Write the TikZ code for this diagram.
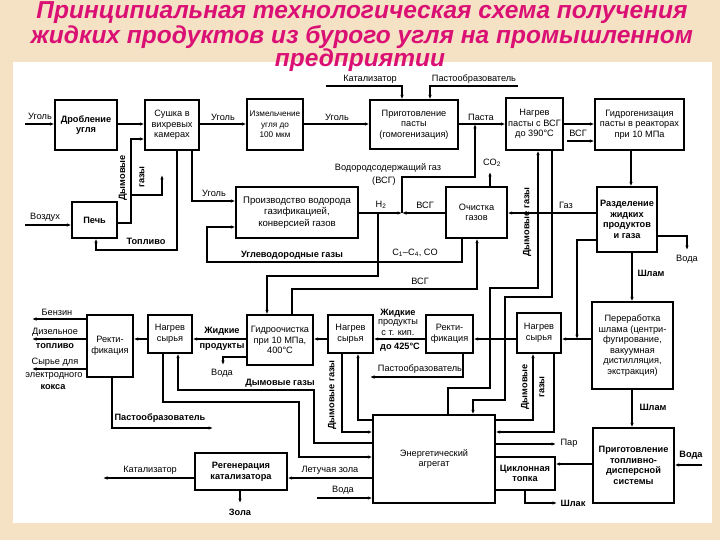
\documentclass[tikz,border=0pt]{standalone}
\usepackage{fontspec}
\setmainfont{Liberation Sans}
\usetikzlibrary{arrows.meta}
\definecolor{bgbeige}{RGB}{245,226,196}
\definecolor{titlepink}{RGB}{218,16,116}
\tikzset{
  fs/.style={font=\fontsize{9.2}{10.6}\selectfont},
  box/.style={draw, line width=1.3pt, align=center, inner sep=0pt, fill=white, fs},
  bbox/.style={box, font=\fontsize{9.2}{10.6}\selectfont\bfseries},
  ln/.style={line width=1.05pt},
  arr/.style={ln, -{Latex[length=4.5pt,width=3.5pt]}},
  lab/.style={inner sep=0pt, align=center, fs},
  blab/.style={lab, font=\fontsize{9.2}{10.6}\selectfont\bfseries},
  ttl/.style={font=\fontsize{24.5}{28}\selectfont\bfseries\itshape, inner sep=0pt, text=titlepink},
}
\begin{document}
\begin{tikzpicture}[x=1pt,y=-1pt]
\fill[bgbeige] (0,0) rectangle (720,540);
\fill[white] (13,62) rectangle (712,523);
\useasboundingbox (0,0) rectangle (720,540);

% title
\node[ttl] (t1) at (362,13) {Принципиальная технологическая схема получения};
\node[ttl] (t2) at (362,37) {жидких продуктов из бурого угля на промышленном};
\node[ttl] (t3) at (360,60) {предприятии};

% boxes
\node[bbox, minimum width=62pt, minimum height=50pt] (drob) at (86,125) {Дробление\\угля};
\node[box, minimum width=54pt, minimum height=50pt] (sush) at (172,125) {Сушка в\\вихревых\\камерах};
\node[box, minimum width=56pt, minimum height=51pt, font=\fontsize{8.2}{10.6}\selectfont] (izm) at (275,124.5) {Измельчение\\угля до\\100 мкм};
\node[box, minimum width=88pt, minimum height=49pt] (prig) at (414,124.5) {Приготовление\\пасты\\(гомогенизация)};
\node[box, minimum width=57pt, minimum height=52pt] (nagp) at (534.5,124) {Нагрев\\пасты с ВСГ\\до 390°C};
\node[box, minimum width=89pt, minimum height=51pt] (gidr) at (639.5,124.5) {Гидрогенизация\\пасты в реакторах\\при 10 МПа};
\node[bbox, minimum width=60pt, minimum height=65pt] (razd) at (627,219.5) {Разделение\\жидких\\продуктов\\и газа};
\node[box, minimum width=61pt, minimum height=51pt] (ochi) at (476.5,212.5) {Очистка\\газов};
\node[box, minimum width=122pt, minimum height=51pt, font=\fontsize{9.6}{11.2}\selectfont] (proi) at (297,212.5) {Производство водорода\\газификацией,\\конверсией газов};
\node[bbox, minimum width=45pt, minimum height=36pt] (pech) at (94.5,220) {Печь};
\node[box, minimum width=46pt, minimum height=62pt] (rekL) at (110,346) {Ректи-\\фикация};
\node[box, minimum width=44pt, minimum height=38pt] (nagL) at (170,334) {Нагрев\\сырья};
\node[box, minimum width=66pt, minimum height=50pt] (gdoc) at (280,340) {Гидроочистка\\при 10 МПа,\\400°C};
\node[box, minimum width=45pt, minimum height=38pt] (nagM) at (350.5,334) {Нагрев\\сырья};
\node[box, minimum width=47pt, minimum height=38pt] (rekM) at (449.5,334) {Ректи-\\фикация};
\node[box, minimum width=44pt, minimum height=40pt] (nagR) at (539,333) {Нагрев\\сырья};
\node[box, minimum width=81pt, minimum height=87pt] (pere) at (632.5,345.5) {Переработка\\шлама (центри-\\фугирование,\\вакуумная\\дистилляция,\\экстракция)};
\node[bbox, minimum width=81pt, minimum height=75pt] (prtd) at (633.5,465.5) {Приготовление\\топливно-\\дисперсной\\системы};
\node[box, minimum width=122pt, minimum height=88pt] (ener) at (434,459) {Энергетический\\агрегат};
\node[bbox, minimum width=60pt, minimum height=33pt] (tsik) at (525,473.5) {Циклонная\\топка};
\node[bbox, minimum width=92pt, minimum height=37pt] (rege) at (241,471.5) {Регенерация\\катализатора};

% free ends
\coordinate (ugin) at (25,124);
\coordinate (vozd) at (25,225);
\coordinate (katin) at (326,86);
\coordinate (pastin) at (518,86);
\coordinate (vsgin) at (567,141);
\coordinate (vodaout) at (687,250);
\coordinate (vodain) at (702,465);
\coordinate (shlak) at (557,503);
\coordinate (par) at (556,444);
\coordinate (vodaen) at (317,498);
\coordinate (katout) at (103,478);
\coordinate (zola) at (240,503);
\coordinate (atm) at (162,175);
\coordinate (co2) at (490,172);
\coordinate (jn) at (402,213);
\coordinate (jr) at (577,339);
\coordinate (benz) at (32,319);
\coordinate (diz) at (32,339);
\coordinate (syr) at (32,369);
\coordinate (pastL) at (213,428);
\coordinate (pastM) at (370,377);
\coordinate (vodaG) at (223,365);

% top row
\draw[arr] (ugin) -- (drob.west |- ugin);
\node[lab] (lug1) at (40,116) {Уголь};
\draw[arr] (drob.east |- 0,124) -- (sush.west |- 0,124);
\draw[arr] (sush.east |- 0,124) -- (izm.west |- 0,124);
\node[lab] (lug2) at (223,117) {Уголь};
\draw[arr] (izm.east |- 0,124) -- (prig.west |- 0,124);
\node[lab] (lug3) at (337,117) {Уголь};
\draw[arr] (katin) -- (402,86) -- (prig.north -| 402,0);
\node[lab] (lkat) at (370,79) {Катализатор};
\draw[arr] (pastin) -- (430,86) -- (prig.north -| 430,0);
\node[lab] (lpast) at (474,79) {Пастообразователь};
\draw[arr] (prig.east |- 0,124) -- (nagp.west |- 0,124);
\node[lab] (lpasta) at (481,117) {Паста};
\draw[arr] (nagp.east |- 0,124) -- (gidr.west |- 0,124);
\draw[arr] (vsgin) -- (gidr.west |- vsgin);
\node[lab] (lvsg1) at (578,133) {ВСГ};
\draw[arr] (gidr.south -| 631,0) -- (razd.north -| 631,0);

% separation
\draw[arr] (razd.west |- 0,213) -- (ochi.east |- 0,213);
\node[lab] (lgaz) at (566,205) {Газ};
\draw[arr] (razd.east |- 0,236) -- (687,236) -- (vodaout);
\node[lab] (lvoda1) at (687,259) {Вода};
\draw[arr] (razd.south -| 632,0) -- (pere.north -| 632,0);
\node[blab] (lshl1) at (651,273) {Шлам};
\draw[arr] (razd.west |- 0,240) -- (577,240) -- (jr);
\draw[arr] (pere.west |- jr) -- (nagR.east |- jr);
\draw[arr] (pere.south -| 632,0) -- (prtd.north -| 632,0);
\node[blab] (lshl2) at (653,407) {Шлам};
\draw[arr] (vodain) -- (prtd.east |- vodain);
\node[blab] (lvoda2) at (691,455) {Вода};
\draw[arr] (prtd.west |- 0,464) -- (tsik.east |- 0,464);
\draw[arr] (tsik.south -| 525,0) -- (525,503) -- (shlak);
\node[blab] (lshlak) at (573,503) {Шлак};
\draw[arr] (ener.east |- par) -- (par);
\node[lab] (lpar) at (569,443) {Пар};
\draw[arr] (ener.west |- 0,478) -- (rege.east |- 0,478);
\node[lab] (llz) at (330,470) {Летучая зола};
\draw[arr] (vodaen) -- (ener.west |- vodaen);
\node[lab] (lvoda3) at (343,490) {Вода};
\draw[arr] (rege.west |- katout) -- (katout);
\node[lab] (lkat2) at (150,470) {Катализатор};
\draw[arr] (rege.south -| zola) -- (zola);
\node[blab] (lzola) at (240,512) {Зола};

% furnace and drying
\draw[arr] (vozd) -- (pech.west |- vozd);
\node[lab] (lvozd) at (45,217) {Воздух};
\draw[arr] (pech.east |- 0,223) -- (131,223) -- (131,139) -- (sush.west |- 0,139);
\draw[arr] (131,195) -- (162,195) -- (atm);
\node[blab, rotate=90] (ldym1) at (123,178) {Дымовые};
\node[blab, rotate=90] (ldym2) at (142,177) {газы};
\draw[arr] (sush.south -| 177,0) -- (177,250) -- (96,250) -- (pech.south -| 96,0);
\node[blab] (ltopl) at (146,241) {Топливо};
\draw[arr] (sush.south -| 192,0) -- (192,201) -- (proi.west |- 0,201);
\node[lab] (lug4) at (214,193) {Уголь};

% hydrogen
\draw[arr] (proi.east |- jn) -- (jn);
\node[lab] (lh2) at (381,205) {H\textsubscript{2}};
\draw[arr] (ochi.west |- jn) -- (jn);
\node[lab] (lvsg2) at (425,205) {ВСГ};
\draw[arr] (jn) -- (402,177) -- (475,177) -- (475,124);
\node[lab] (lvsg3) at (388,168) {Водородсодержащий газ};
\node[lab] (lvsg4) at (384,181) {(ВСГ)};
\draw[arr] (ochi.north -| co2) -- (co2);
\node[lab] (lco2) at (492,163) {CO\textsubscript{2}};
\draw[arr] (378,213) -- (378,276) -- (267,276) -- (gdoc.north -| 267,0);
\draw[arr] (ochi.south -| 462,0) -- (462,262) -- (207,262) -- (207,227) -- (proi.west |- 0,227);
\node[blab] (luvg) at (292,255) {Углеводородные газы};
\node[lab] (lc1) at (415,253) {C\textsubscript{1}–C\textsubscript{4}, CO};
\draw[arr] (gdoc.north -| 292,0) -- (292,289) -- (477,289) -- (ochi.south -| 477,0);
\node[lab] (lvsg5) at (420,281) {ВСГ};

% flue gases to paste heater
\draw[arr] (ener.north -| 448,0) -- (448,388) -- (490,388) -- (490,288) -- (538,288) -- (nagp.south -| 538,0);
\draw[arr] (nagp.south -| 552,0) -- (552,297) -- (505,297) -- (505,400) -- (473,400) -- (ener.north -| 473,0);
\node[blab, rotate=90] (ldym3) at (527,222) {Дымовые газы};

% flue gases right heater
\draw[arr] (ener.east |- 0,420) -- (533,420) -- (nagR.south -| 533,0);
\draw[arr] (nagR.south -| 554,0) -- (554,432) -- (ener.east |- 0,432);
\node[blab, rotate=90] (ldym4) at (525,387) {Дымовые};
\node[blab, rotate=90] (ldym5) at (542,387) {газы};

% flue gases middle heater
\draw[arr] (ener.west |- 0,420) -- (358,420) -- (nagM.south -| 358,0);
\draw[arr] (nagM.south -| 342,0) -- (342,432) -- (ener.west |- 0,432);
\node[blab, rotate=90] (ldym6) at (332,395) {Дымовые газы};

% flue gases left heater
\draw[arr] (ener.west |- 0,443) -- (314,443) -- (314,390) -- (178,390) -- (nagL.south -| 178,0);
\draw[arr] (nagL.south -| 163,0) -- (163,402) -- (299,402) -- (299,457) -- (ener.west |- 0,457);
\node[blab] (ldym7) at (280,383) {Дымовые газы};

% middle row
\draw[arr] (nagL.west |- 0,339) -- (rekL.east |- 0,339);
\draw[arr] (gdoc.west |- 0,339) -- (nagL.east |- 0,339);
\node[blab] (lzp1) at (222,331) {Жидкие};
\node[blab] (lzp2) at (222,347) {продукты};
\draw[arr] (gdoc.west |- 0,357) -- (223,357) -- (vodaG);
\node[lab] (lvoda4) at (222,373) {Вода};
\draw[arr] (nagM.west |- 0,339) -- (gdoc.east |- 0,339);
\draw[arr] (rekM.west |- 0,339) -- (nagM.east |- 0,339);
\node[blab] (lzk1) at (398,313) {Жидкие};
\node[lab] (lzk2) at (398,323) {продукты};
\node[lab] (lzk3) at (398,333) {с т. кип.};
\node[blab] (lzk4) at (400,347) {до 425°C};
\draw[arr] (nagR.west |- 0,339) -- (rekM.east |- 0,339);
\draw[arr] (rekM.south -| 463,0) -- (463,377) -- (pastM);
\node[lab] (lpast2) at (420,369) {Пастообразователь};
\draw[arr] (rekL.west |- benz) -- (benz);
\node[lab] (lbenz) at (57,312) {Бензин};
\draw[arr] (rekL.west |- diz) -- (diz);
\node[lab] (ldiz1) at (55,332) {Дизельное};
\node[blab] (ldiz2) at (55,346) {топливо};
\draw[arr] (rekL.west |- syr) -- (syr);
\node[lab] (lsyr1) at (55,362) {Сырье для};
\node[lab] (lsyr2) at (54,376) {электродного};
\node[blab] (lsyr3) at (53,387) {кокса};
\draw[arr] (rekL.south -| 112,0) -- (112,428) -- (pastL);
\node[blab] (lpast3) at (160,418) {Пастообразователь};
\end{tikzpicture}
\end{document}
